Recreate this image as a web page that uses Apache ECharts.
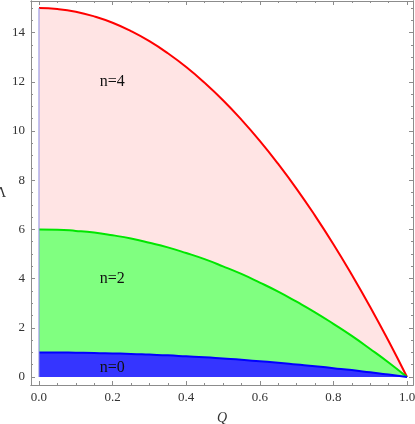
<!DOCTYPE html>
<html>
<head>
<meta charset="utf-8">
<script src="https://cdn.jsdelivr.net/npm/echarts@6/dist/echarts.min.js"></script>
<style>
  html, body { margin: 0; padding: 0; background: #fff; }
  #Grf { width: 415px; height: 424px; }
</style>
</head>
<body>
<div id="Grf"></div>
<script>
// values
const qValues = [0, 0.05, 0.1, 0.15, 0.2, 0.25, 0.3, 0.35, 0.4, 0.45, 0.5,
                 0.55, 0.6, 0.65, 0.7, 0.75, 0.8, 0.85, 0.9, 0.95, 1];
const lambdaN4 = [15, 14.96, 14.85, 14.66, 14.4, 14.06, 13.65, 13.16, 12.6, 11.96, 11.25,
                  10.46, 9.6, 8.66, 7.65, 6.56, 5.4, 4.16, 2.85, 1.46, 0];
const lambdaN2 = [6, 5.99, 5.94, 5.87, 5.76, 5.63, 5.46, 5.27, 5.04, 4.79, 4.5,
                  4.19, 3.84, 3.47, 3.06, 2.63, 2.16, 1.67, 1.14, 0.59, 0];
const lambdaN0 = [1, 1.0, 0.99, 0.98, 0.96, 0.94, 0.91, 0.88, 0.84, 0.8, 0.75,
                  0.7, 0.64, 0.58, 0.51, 0.44, 0.36, 0.28, 0.19, 0.1, 0];
const labelQ = [0.199, 0.199, 0.199];
const labelLambda = [12.0, 4.0, 0.37];
const labelText = ['n=4', 'n=2', 'n=0'];
const xMajor = [0, 0.2, 0.4, 0.6, 0.8, 1.0];
const xMinor = [0.05, 0.1, 0.15, 0.25, 0.3, 0.35, 0.45, 0.5, 0.55, 0.65, 0.7, 0.75, 0.85, 0.9, 0.95];
const yMajor = [0, 2, 4, 6, 8, 10, 12, 14];
const yMinor = [0.5, 1, 1.5, 2.5, 3, 3.5, 4.5, 5, 5.5, 6.5, 7, 7.5, 8.5, 9, 9.5,
                10.5, 11, 11.5, 12.5, 13, 13.5, 14.5, 15];

const frameColor = '#8c8c8c';
const serif = '"Liberation Serif", "Times New Roman", "DejaVu Serif", serif';

const pairs = (ys) => qValues.map((q, i) => [q, ys[i]]);

const makeX = (pos, ticks, len, labels) => ({
    type: 'value', position: pos, min: -0.0217, max: 1.0163,
    axisLine: { show: true, onZero: false, lineStyle: { color: frameColor, width: 1 } },
    axisTick: { show: true, inside: true, length: len, customValues: ticks,
                lineStyle: { color: frameColor } },
    axisLabel: labels ? { show: true, customValues: ticks, margin: 6,
                          formatter: (v) => v.toFixed(1),
                          fontFamily: serif, fontSize: 13, color: '#333' }
                      : { show: false },
    splitLine: { show: false }
});

const makeY = (pos, ticks, len, labels) => ({
    type: 'value', position: pos, min: -0.325, max: 15.285,
    axisLine: { show: true, onZero: false, lineStyle: { color: frameColor, width: 1 } },
    axisTick: { show: true, inside: true, length: len, customValues: ticks,
                lineStyle: { color: frameColor } },
    axisLabel: labels ? { show: true, customValues: ticks, margin: 6,
                          formatter: (v) => String(v),
                          fontFamily: serif, fontSize: 13, color: '#333' }
                      : { show: false },
    splitLine: { show: false }
});

const xAxes = [makeX('bottom', xMajor, 4, true), makeX('bottom', xMinor, 2, false),
               makeX('top', xMajor, 4, false), makeX('top', xMinor, 2, false)];
xAxes[0].name = 'Q';
xAxes[0].nameLocation = 'middle';
xAxes[0].nameGap = 26;
xAxes[0].nameTextStyle = { fontFamily: serif, fontStyle: 'italic', fontSize: 14, color: '#333' };

const yAxes = [makeY('left', yMajor, 4, true), makeY('left', yMinor, 2, false),
               makeY('right', yMajor, 4, false), makeY('right', yMinor, 2, false)];
yAxes[0].name = 'Λ';
yAxes[0].nameLocation = 'middle';
yAxes[0].nameRotate = 0;
yAxes[0].nameGap = 17;
yAxes[0].nameTextStyle = { fontFamily: serif, fontSize: 14, color: '#333' };

const areaSeries = (ys, line, fill) => ({
    type: 'line', data: pairs(ys), smooth: true, symbol: 'none',
    lineStyle: { color: line, width: 2 },
    areaStyle: { color: fill, opacity: 1 },
    silent: true
});

const option = {
    animation: false,
    grid: { left: 31, right: 2, top: 1, bottom: 39, containLabel: false, outerBoundsMode: 'none' },
    xAxis: xAxes,
    yAxis: yAxes,
    series: [
        areaSeries(lambdaN4, '#ff0000', '#ffe4e4'),
        areaSeries(lambdaN2, '#00e600', '#80ff80'),
        areaSeries(lambdaN0, '#0000ff', '#3535ff'),
        {
            type: 'line', data: [[0, 0], [0, 15]], symbol: 'none',
            lineStyle: { color: '#8a8ae0', width: 1 }, silent: true
        },
        {
            type: 'custom', silent: true, z: 10,
            data: labelQ.map((q, i) => [q, labelLambda[i], i]),
            renderItem: (params, api) => {
                const pt = api.coord([api.value(0), api.value(1)]);
                return {
                    type: 'text', x: pt[0], y: pt[1],
                    style: {
                        text: labelText[api.value(2)],
                        fontFamily: serif, fontSize: 16, fill: '#111',
                        align: 'center', verticalAlign: 'middle'
                    }
                };
            }
        }
    ]
};

const grafica = echarts.init(document.querySelector('#Grf'));
grafica.setOption(option);
</script>
</body>
</html>
